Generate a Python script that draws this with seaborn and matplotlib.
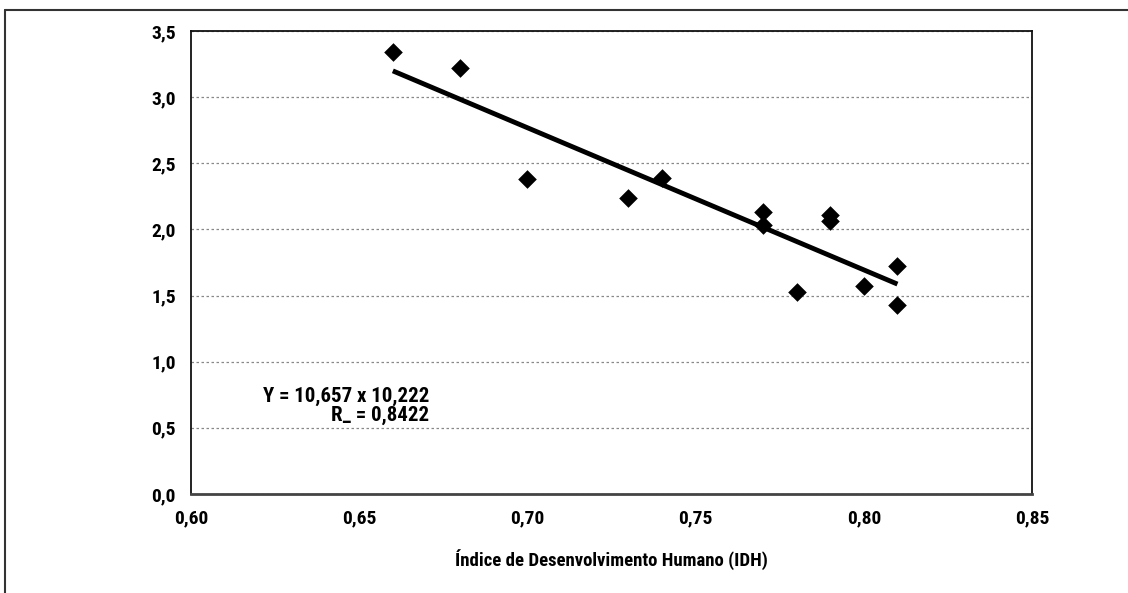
import matplotlib
matplotlib.use('Agg')
import matplotlib.pyplot as plt
from matplotlib.lines import Line2D
from matplotlib.ticker import FuncFormatter
import pandas as pd
import seaborn as sns

# IDH vs. valor por país
idh = [0.66, 0.68, 0.70, 0.73, 0.74, 0.77, 0.77, 0.78, 0.79, 0.79, 0.80, 0.81, 0.81]
valores = [3.34, 3.22, 2.38, 2.24, 2.39, 2.13, 2.03, 1.53, 2.11, 2.06, 1.57, 1.72, 1.43]
x_ticks = [0.60, 0.65, 0.70, 0.75, 0.80, 0.85]
y_ticks = [0.0, 0.5, 1.0, 1.5, 2.0, 2.5, 3.0, 3.5]
equacao = 'Y = 10,657 x 10,222\nR_ = 0,8422'
x_label = 'Índice de Desenvolvimento Humano (IDH)'

sns.set_style('white')
plt.rcParams['font.family'] = ['Roboto Condensed', 'DejaVu Sans']
plt.rcParams['font.stretch'] = 'condensed'
plt.rcParams['font.weight'] = 'bold'
plt.rcParams['text.color'] = 'black'
plt.rcParams['xtick.color'] = 'black'
plt.rcParams['ytick.color'] = 'black'
plt.rcParams['axes.labelcolor'] = 'black'

df = pd.DataFrame({'idh': idh, 'valor': valores})

fig = plt.figure(figsize=(11.28, 5.93), dpi=100)
ax = fig.add_axes([191 / 1128, 1 - 494 / 593, (1032 - 191) / 1128, (494 - 31) / 593])

sns.regplot(data=df, x='idh', y='valor', ax=ax, ci=None, color='black',
            marker='D', scatter_kws={'s': 90, 'linewidths': 0, 'alpha': 1, 'zorder': 3},
            line_kws={'linewidth': 3.5, 'solid_capstyle': 'butt'})

ax.set_xlim(0.60, 0.85)
ax.set_ylim(0.0, 3.5)
ax.set_xticks(x_ticks)
ax.set_yticks(y_ticks)
ax.xaxis.set_major_formatter(FuncFormatter(lambda v, p: f'{v:.2f}'.replace('.', ',')))
ax.yaxis.set_major_formatter(FuncFormatter(lambda v, p: f'{v:.1f}'.replace('.', ',')))
ax.tick_params(axis='both', direction='out', length=8, width=1.2, color='#222222',
               labelsize=14, pad=3)
ax.yaxis.grid(True, linestyle=(0, (2, 2)), color='#888888', linewidth=0.9)
ax.set_axisbelow(True)
for s in ax.spines.values():
    s.set_color('#111111')
    s.set_linewidth(1.3)
ax.spines['bottom'].set_color('#444444')
ax.spines['bottom'].set_linewidth(2)

ax.set_xlabel(x_label, fontsize=13.5, fontweight='bold', labelpad=16)
ax.set_ylabel('')

ax.text(0.6708, 0.665, equacao, ha='right', va='center', multialignment='right',
        fontsize=15, fontweight='bold', linespacing=1.0)

# moldura (só topo e esquerda visíveis)
fl = 5 / 1128
ft = 1 - 10 / 593
fig.add_artist(Line2D([fl, fl], [0, ft], transform=fig.transFigure, color='#333333', linewidth=1.5))
fig.add_artist(Line2D([fl, 1], [ft, ft], transform=fig.transFigure, color='#333333', linewidth=1.5))

fig.savefig('out.png', dpi=100)
